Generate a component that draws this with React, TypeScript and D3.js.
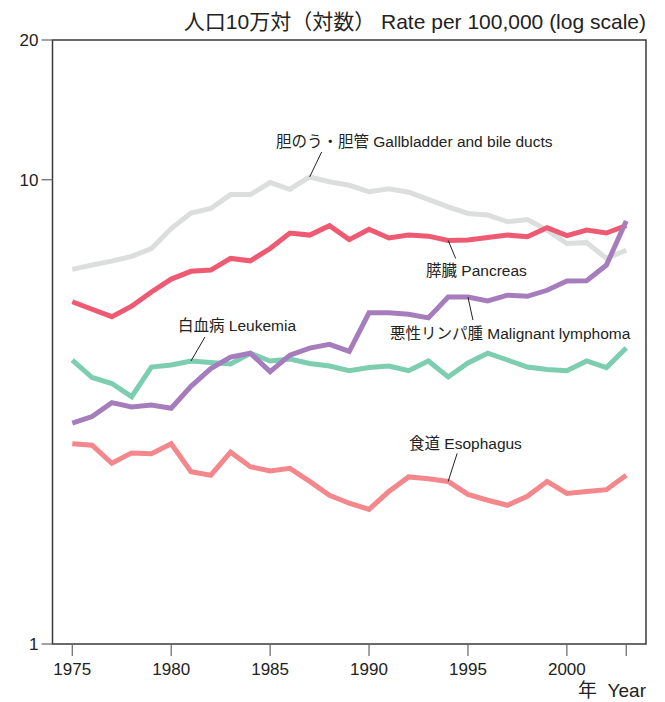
import React from "react";
import * as d3 from "d3";

const years = [1975,1976,1977,1978,1979,1980,1981,1982,1983,1984,1985,1986,1987,1988,1989,1990,1991,1992,1993,1994,1995,1996,1997,1998,1999,2000,2001,2002,2003];
const gallbladder = [6.41,6.55,6.68,6.84,7.11,7.85,8.48,8.67,9.29,9.29,9.86,9.54,10.14,9.9,9.73,9.42,9.56,9.4,9.07,8.74,8.46,8.4,8.12,8.21,7.79,7.29,7.32,6.77,7.05];
const pancreas = [5.46,5.26,5.07,5.34,5.73,6.11,6.35,6.39,6.77,6.69,7.11,7.68,7.6,7.96,7.43,7.82,7.49,7.6,7.56,7.4,7.42,7.51,7.6,7.54,7.88,7.58,7.79,7.68,7.97];
const leukemia = [4.09,3.75,3.64,3.41,3.95,3.99,4.07,4.04,4.01,4.23,4.07,4.11,4.02,3.97,3.88,3.94,3.97,3.88,4.07,3.76,4.03,4.23,4.09,3.95,3.9,3.88,4.07,3.94,4.34];
const lymphoma = [2.99,3.09,3.31,3.24,3.27,3.22,3.59,3.92,4.15,4.23,3.86,4.19,4.34,4.42,4.27,5.17,5.17,5.13,5.04,5.59,5.59,5.48,5.64,5.61,5.78,6.05,6.06,6.55,8.15];
const esophagus = [2.7,2.68,2.45,2.58,2.57,2.7,2.35,2.31,2.59,2.41,2.36,2.39,2.24,2.09,2.01,1.95,2.13,2.29,2.27,2.24,2.1,2.04,1.99,2.08,2.24,2.11,2.13,2.15,2.31];

const yTickValues = [1, 10, 20];
const xTickValues = [1975, 1980, 1985, 1990, 1995, 2000, 2003];
const xTickLabels = ["1975", "1980", "1985", "1990", "1995", "2000", ""];

const titleText = "人口10万対（対数） Rate per 100,000 (log scale)";
const xTitleText = "年  Year";

const series = [
  { name: "gallbladder", values: gallbladder, color: "#dcdddd", label: "胆のう・胆管 Gallbladder and bile ducts", year: 1987, dx: 12, dy: -25, tx: 276, ty: 147 },
  { name: "pancreas", values: pancreas, color: "#ef5a73", label: "膵臓 Pancreas", year: 1994, dx: 7.5, dy: 18, tx: 426, ty: 276 },
  { name: "esophagus", values: esophagus, color: "#f3878c", label: "食道 Esophagus", year: 1994, dx: 9, dy: -28, tx: 409, ty: 449 },
  { name: "leukemia", values: leukemia, color: "#7dcdb1", label: "白血病 Leukemia", year: 1981, dx: 14, dy: -24, tx: 178, ty: 331 },
  { name: "lymphoma", values: lymphoma, color: "#a67dbc", label: "悪性リンパ腫 Malignant lymphoma", year: 1995, dx: 5, dy: 23, tx: 390, ty: 339 },
];

const W = 665, H = 702;
const L = 52.5, R = 646, T = 40, B = 644;
const FONT = "'Liberation Sans', Arial, 'Noto Sans CJK JP', sans-serif";

export default function App() {
  const x = d3.scaleLinear().domain([1974, 2004]).range([L, R]);
  const y = d3.scaleLog().domain([1, 20]).range([B, T]);
  const line = d3.line<number>().x((_, i) => x(years[i])).y((d) => y(d));

  return (
    <svg width={W} height={H} style={{ position: "absolute", left: 0, top: 0 }} fontFamily={FONT}>
      <rect x={0} y={0} width={W} height={H} fill="#fff" />
      <rect x={L} y={T} width={R - L} height={B - T} fill="none" stroke="#3a3a3a" strokeWidth={1.5} />
      {yTickValues.map((v) => (
        <g key={"y" + v}>
          <line x1={L - 11} x2={L} y1={y(v)} y2={y(v)} stroke="#666" strokeWidth={1.2} />
          <text x={L - 14} y={y(v)} dy="0.36em" textAnchor="end" fontSize={17} fill="#222">{v}</text>
        </g>
      ))}
      {xTickValues.map((v, i) => (
        <g key={"x" + v}>
          <line x1={x(v)} x2={x(v)} y1={B} y2={B + 12} stroke="#666" strokeWidth={1.2} />
          <text x={x(v)} y={B + 31} textAnchor="middle" fontSize={17} fill="#222">{xTickLabels[i]}</text>
        </g>
      ))}
      <text x={R} y={29} textAnchor="end" fontSize={21} fill="#222">{titleText}</text>
      <text x={R} y={697} textAnchor="end" fontSize={19} fill="#222" style={{ whiteSpace: "pre" }}>{xTitleText}</text>
      {series.map((s) => (
        <path key={s.name} d={line(s.values) || ""} fill="none" stroke={s.color} strokeWidth={5} strokeLinejoin="miter" strokeMiterlimit={3} />
      ))}
      {series.map((s) => {
        const i = years.indexOf(s.year);
        const px = x(s.year), py = y(s.values[i]);
        return (
          <g key={"a" + s.name}>
            <line x1={px} y1={py} x2={px + s.dx} y2={py + s.dy} stroke="#222" strokeWidth={1} />
            <text x={s.tx} y={s.ty} fontSize={15.5} fill="#222">{s.label}</text>
          </g>
        );
      })}
    </svg>
  );
}
